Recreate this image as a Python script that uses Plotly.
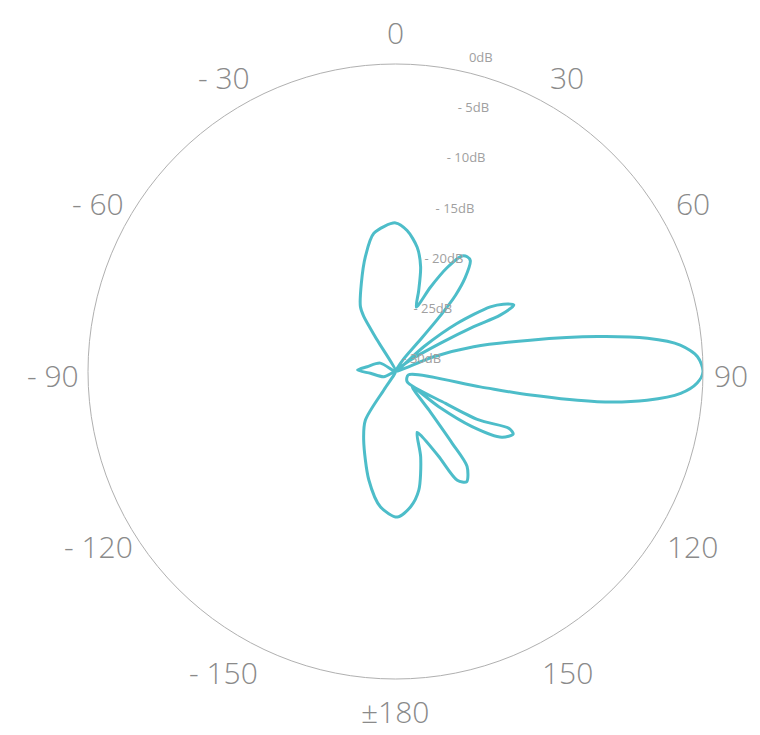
import math
import plotly.graph_objects as go

# traced radiation pattern, clockwise from the top (deg, dB)
ANGLE = [0, 4.7, 9.9, 13.5, 16.0, 17.9,
         22.5, 26.4, 29.9, 32.0, 34.0, 36.6, 38.2, 38.8, 37.6, 33.0, 45,
         48.8, 52.0, 55.7, 58.0, 60.65, 61.7, 60.2, 57.9, 52.5, 65,
         68.9, 72.4, 76.9, 80.2, 82.5, 84.7, 87.2, 90.0, 92.2, 94.4, 96.5, 98.5, 99.9, 100.3, 104.7,
         131.0, 122.5, 120.2, 116.6, 118.0, 121.7, 125.7, 129.1, 132.3,
         139.1, 141.7, 143.0, 147.2, 150.4, 153.0, 157.7, 160.5,
         163.6, 168.9, 173.7, 179.3, 186.3, 193.8, 204.8, 211.7, 212.3, 230,
         246, 265.9, 272.2, 279.6, 298.7, 315,
         329.8, 330.0, 331.6, 338.75, 345.35, 351.1, 360]
GAIN_DB = [-15.5, -16.2, -17.7, -19.5, -21.8, -23.4,
           -21.1, -18.7, -17.0, -16.8, -16.95, -18.6, -20.5, -23.0, -26.5, -28.6, -30,
           -26.3, -22.4, -18.8, -17.6, -16.76, -18.4, -21.2, -24.8, -28.2, -30,
           -26.0, -22.0, -16.5, -10.0, -5.2, -2.1, -0.5, 0.0, -0.55, -2.1, -5.3, -10.1, -16.6, -21.6, -28.7,
           -28.5, -24.2, -20.6, -17.6, -17.0, -17.8, -20.8, -24.6, -27.8,
           -25.0, -21.1, -18.4, -17.2, -17.8, -20.7, -23.1, -23.7,
           -21.3, -18.2, -16.7, -15.8, -16.7, -19.1, -22.6, -24.4, -27.9, -30,
           -28.75, -27.55, -26.3, -27.2, -28.3, -30,
           -26.45, -23.8, -22.8, -20.8, -18.4, -16.35, -15.5]

ANG_TICKS = [0, 30, 60, 90, 120, 150, 180, 210, 240, 270, 300, 330]
ANG_LABELS = ["0", "30", "60", "90", "120", "150", "±180",
              "- 150", "- 120", "- 90", "- 60", "- 30"]
DB_TICKS = [0, -5, -10, -15, -20, -25, -30]
DB_LABELS = ["0dB", "- 5dB", "- 10dB", "- 15dB", "- 20dB", "- 25dB", "- 30dB"]

LINE = "#4dbdc9"
W, H = 744, 719     # page body adds 8px each side
PLOT = 615          # square plot area, px
ML, MT = 80, 56
LABEL_RING = 343    # px from centre to the middle of each angle label

fig = go.Figure()
fig.add_scatterpolar(theta=ANGLE, r=GAIN_DB, mode="lines",
                     line=dict(color=LINE, width=3, shape="spline", smoothing=0.8),
                     showlegend=False, hoverinfo="skip")

# angle labels centred on a ring just outside the 0 dB circle,
# nudged inwards where they would run off the page
right_px = W - ML - 2
bottom_px = H - MT - 2
for a, txt in zip(ANG_TICKS, ANG_LABELS):
    rad = math.radians(a)
    cx = PLOT / 2 + LABEL_RING * math.sin(rad)
    cy = PLOT / 2 - LABEL_RING * math.cos(rad) + 3.5
    half_w, half_h = 9 * len(txt), 14
    anchor = "center"
    if cx + half_w > right_px:
        cx, anchor = right_px, "right"
    cy = min(cy, bottom_px - half_h)
    fig.add_annotation(xref="paper", yref="paper", showarrow=False,
                       x=cx / PLOT, y=1 - cy / PLOT,
                       xanchor=anchor, yanchor="middle", text=txt,
                       font=dict(size=30, color="#8a8a8a", weight=300))

fig.update_layout(
    width=W, height=H,
    margin=dict(l=ML, r=W - ML - PLOT, t=MT, b=H - MT - PLOT),
    paper_bgcolor="white",
    font=dict(family="Open Sans", color="#8a8a8a"),
    polar=dict(
        bgcolor="white",
        angularaxis=dict(rotation=90, direction="clockwise",
                         tickmode="array", tickvals=ANG_TICKS,
                         showticklabels=False, showgrid=False, ticks="",
                         showline=True, linecolor="#b0b0b0", linewidth=1),
        radialaxis=dict(range=[-30, 0], angle=77.5, tickangle=77.5,
                        tickmode="array", tickvals=DB_TICKS,
                        ticktext=[t + "<br> <br> " for t in DB_LABELS],
                        showgrid=False, showline=False, ticks="",
                        tickfont=dict(size=13, color="#a0a0a0")),
    ),
)

fig.write_html("out.html")
